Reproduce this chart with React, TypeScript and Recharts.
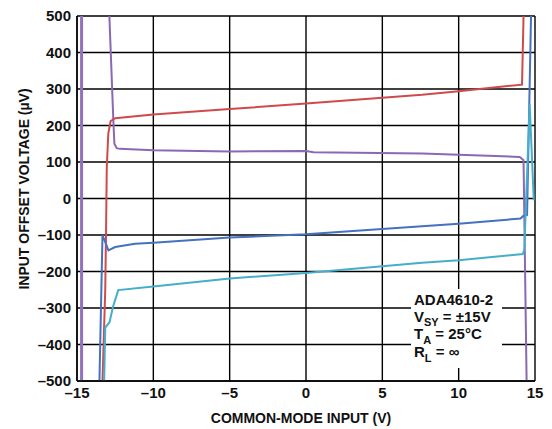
import React from "react";
import { LineChart, Line, XAxis, YAxis, CartesianGrid, Label, ReferenceLine } from "recharts";

// common-mode input (V) vs input offset voltage (µV)
const redPoints = [
  { x: -13.33, y: -500 },
  { x: -13.15, y: -250 },
  { x: -13.1, y: -100 },
  { x: -13.05, y: 85 },
  { x: -12.95, y: 178 },
  { x: -12.8, y: 212 },
  { x: -12.5, y: 220 },
  { x: -10, y: 230 },
  { x: -5, y: 245 },
  { x: 0, y: 260 },
  { x: 7.6, y: 284 },
  { x: 10, y: 294 },
  { x: 14.15, y: 312 },
  { x: 14.25, y: 500 },
];

const purplePoints = [
  { x: -12.88, y: 500 },
  { x: -12.62, y: 214 },
  { x: -12.55, y: 150 },
  { x: -12.4, y: 138 },
  { x: -12.2, y: 136 },
  { x: -10, y: 132 },
  { x: -5, y: 129 },
  { x: 0, y: 130 },
  { x: 0.5, y: 127 },
  { x: 7.6, y: 123 },
  { x: 10, y: 120 },
  { x: 14.0, y: 114 },
  { x: 14.25, y: 105 },
  { x: 14.45, y: -500 },
];

// the purple trace also runs straight up the left edge, over the whole range
const purpleEdgeX = -14.7;

const bluePoints = [
  { x: -13.53, y: -500 },
  { x: -13.33, y: -100 },
  { x: -12.94, y: -142 },
  { x: -12.5, y: -133 },
  { x: -11.2, y: -124 },
  { x: -10, y: -121 },
  { x: -5, y: -107 },
  { x: 0, y: -98 },
  { x: 7.6, y: -76 },
  { x: 10, y: -69 },
  { x: 14.05, y: -55 },
  { x: 14.25, y: -47 },
  { x: 14.48, y: -45 },
  { x: 14.74, y: 500 },
];

const cyanPoints = [
  { x: -13.22, y: -500 },
  { x: -13.15, y: -354 },
  { x: -12.87, y: -339 },
  { x: -12.65, y: -298 },
  { x: -12.3, y: -251 },
  { x: -10, y: -241 },
  { x: -5, y: -219 },
  { x: 0, y: -204 },
  { x: 7.6, y: -176 },
  { x: 10, y: -169 },
  { x: 14.2, y: -152 },
  { x: 14.3, y: -140 },
  { x: 14.65, y: 259 },
  { x: 14.92, y: -5 },
];

const xTicks = [-15, -10, -5, 0, 5, 10, 15];
const yTicks = [500, 400, 300, 200, 100, 0, -100, -200, -300, -400, -500];

const FONT = "'Liberation Sans', Arial, Helvetica, sans-serif";
const INK = "#111";
const PURPLE = "#8a68b4";

const fmt = (v: number) => (v < 0 ? `\u2013${-v}` : String(v));

export default function App() {
  const tickStyle = { fontSize: 15, fontWeight: 700, fill: INK, fontFamily: FONT };
  return (
    <div style={{ position: "absolute", left: 0, top: 0, width: 552, height: 429, background: "#fff" }}>
      <LineChart width={552} height={429} margin={{ top: 16, right: 17, left: 0, bottom: 0 }}>
        <CartesianGrid stroke="#000" strokeWidth={1.4} />
        <XAxis
          dataKey="x"
          type="number"
          domain={[-15, 15]}
          ticks={xTicks}
          allowDataOverflow
          tickFormatter={fmt}
          tick={tickStyle}
          tickLine={false}
          tickSize={4}
          tickMargin={2}
          axisLine={{ stroke: "#000", strokeWidth: 1.4 }}
          height={48}
          interval={0}
        >
          <Label
            content={() => (
              <text x={301} y={423} textAnchor="middle" fontFamily={FONT} fontWeight={700} fontSize={14} fill={INK}>
                COMMON-MODE INPUT (V)
              </text>
            )}
          />
        </XAxis>
        <YAxis
          type="number"
          domain={[-500, 500]}
          ticks={yTicks}
          allowDataOverflow
          tickFormatter={fmt}
          tick={tickStyle}
          tickLine={false}
          tickSize={4}
          tickMargin={2}
          axisLine={{ stroke: "#000", strokeWidth: 1.4 }}
          width={77}
          interval={0}
        >
          <Label
            content={() => (
              <text
                x={29}
                y={189}
                transform="rotate(-90 29 189)"
                textAnchor="middle"
                fontFamily={FONT}
                fontWeight={700}
                fontSize={14}
                fill={INK}
              >
                INPUT OFFSET VOLTAGE (µV)
              </text>
            )}
          />
        </YAxis>
        <ReferenceLine x={purpleEdgeX} stroke="#9272bb" strokeWidth={3} />
        <Line id="purple" data={purplePoints} dataKey="y" stroke={PURPLE} strokeWidth={2} dot={false} isAnimationActive={false} />
        <Line id="red" data={redPoints} dataKey="y" stroke="#cf4a4c" strokeWidth={2} dot={false} isAnimationActive={false} />
        <Line id="blue" data={bluePoints} dataKey="y" stroke="#4670c0" strokeWidth={2} dot={false} isAnimationActive={false} />
        <Line id="cyan" data={cyanPoints} dataKey="y" stroke="#45aecb" strokeWidth={2} dot={false} isAnimationActive={false} />
      </LineChart>
      <svg width={552} height={429} style={{ position: "absolute", left: 0, top: 0, pointerEvents: "none" }}>
        <rect x={411} y={289} width={91} height={79} fill="#fff" />
        <g fontFamily={FONT} fontWeight={700} fill={INK} fontSize={15}>
          <text x={414} y={305}>ADA4610-2</text>
          <text x={414} y={322}>
            V<tspan fontSize={11} dy={4}>SY</tspan>
            <tspan dy={-4}> = ±15V</tspan>
          </text>
          <text x={414} y={339}>
            T<tspan fontSize={11} dy={5}>A</tspan>
            <tspan dy={-5}> = 25°C</tspan>
          </text>
          <text x={414} y={357}>
            R<tspan fontSize={11} dy={5}>L</tspan>
            <tspan dy={-5}> = ∞</tspan>
          </text>
        </g>
      </svg>
    </div>
  );
}
